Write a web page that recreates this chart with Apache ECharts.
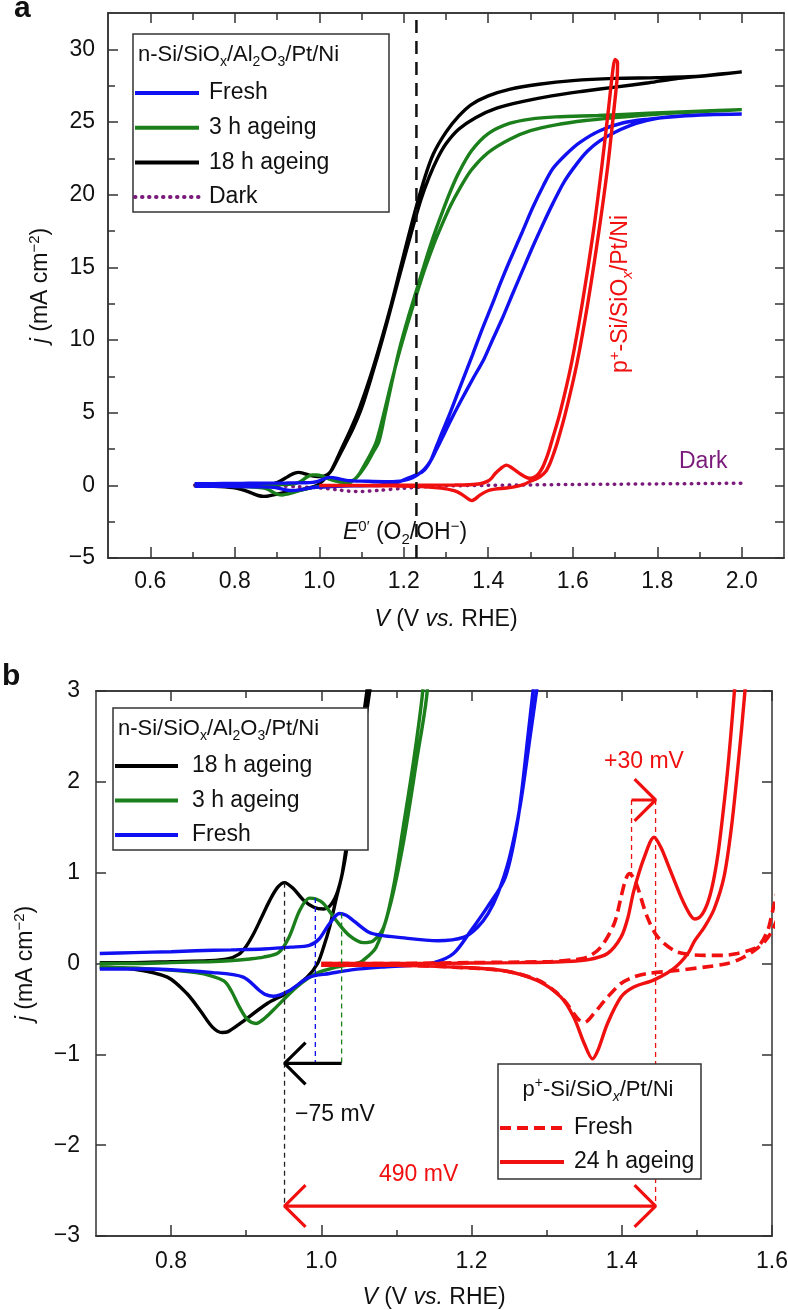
<!DOCTYPE html>
<html><head><meta charset="utf-8">
<script src="https://cdn.jsdelivr.net/npm/echarts@6.0.0/dist/echarts.min.js"></script>
<style>html,body{margin:0;padding:0;background:#fff}#c{width:788px;height:1310px}</style>
</head><body><div id="c"></div>
<script>
// ---------- tick values ----------
const xTicksA = [0.6, 0.8, 1.0, 1.2, 1.4, 1.6, 1.8, 2.0];
const xMinorA = [0.7, 0.9, 1.1, 1.3, 1.5, 1.7, 1.9];
const yTicksA = [-5, 0, 5, 10, 15, 20, 25, 30];
const yMinorA = [-2.5, 2.5, 7.5, 12.5, 17.5, 22.5, 27.5];
const xTicksB = [0.8, 1.0, 1.2, 1.4, 1.6];
const xMinorB = [0.9, 1.1, 1.3, 1.5];
const yTicksB = [-3, -2, -1, 0, 1, 2, 3];

// ---------- CV curves [V, mA cm^-2] (forward scan then reverse scan) ----------
const black18h = [
 [0.705,0.01],[0.75,0.01],[0.80,0.02],[0.85,0.03],[0.875,0.05],[0.89,0.10],[0.90,0.19],[0.91,0.33],[0.92,0.50],[0.931,0.69],[0.942,0.84],[0.951,0.89],[0.962,0.83],[0.976,0.70],[0.99,0.62],[1.003,0.60],[1.013,0.65],[1.022,0.80],[1.031,1.12],[1.045,1.9],[1.06,2.75],[1.08,3.9],[1.10,5.3],[1.125,7.6],[1.15,10.1],[1.175,12.8],[1.20,15.5],[1.22,17.6],[1.24,19.6],[1.26,21.2],[1.28,22.5],[1.30,23.5],[1.33,24.5],[1.37,25.3],[1.42,25.95],[1.48,26.4],[1.55,26.8],[1.62,27.1],[1.70,27.4],[1.78,27.7],[1.85,28.0],[1.92,28.2],[2.0,28.45],
 [1.95,28.3],[1.90,28.15],[1.80,28.05],[1.70,28.0],[1.60,27.85],[1.52,27.6],[1.45,27.25],[1.40,26.8],[1.36,26.2],[1.33,25.4],[1.30,24.3],[1.27,22.8],[1.25,21.2],[1.23,19.2],[1.21,17.0],[1.19,14.7],[1.17,12.4],[1.145,9.8],[1.12,7.4],[1.095,5.3],[1.075,3.9],[1.055,2.65],[1.04,1.7],[1.028,1.0],[1.02,0.72],[1.011,0.40],[1.003,0.18],[0.995,0.0],[0.981,-0.15],[0.955,-0.32],[0.928,-0.44],[0.892,-0.66],[0.876,-0.75],[0.868,-0.76],[0.855,-0.70],[0.839,-0.52],[0.821,-0.33],[0.795,-0.15],[0.749,-0.06],[0.705,-0.04]
];
const green3h = [
 [0.705,0.0],[0.75,0.0],[0.80,0.01],[0.85,0.02],[0.877,0.03],[0.905,0.05],[0.923,0.07],[0.943,0.12],[0.957,0.29],[0.971,0.58],[0.984,0.72],[0.993,0.71],[1.003,0.66],[1.02,0.47],[1.037,0.31],[1.056,0.23],[1.069,0.25],[1.083,0.40],[1.096,0.84],[1.109,1.5],[1.123,2.24],[1.135,3.0],[1.15,4.6],[1.17,7.0],[1.19,9.2],[1.21,11.2],[1.23,13.1],[1.25,14.9],[1.27,16.5],[1.29,17.9],[1.31,19.2],[1.33,20.3],[1.36,21.7],[1.40,22.9],[1.45,23.8],[1.50,24.4],[1.56,24.8],[1.63,25.1],[1.70,25.3],[1.78,25.5],[1.86,25.65],[1.93,25.75],[2.0,25.85],
 [1.90,25.75],[1.78,25.6],[1.66,25.45],[1.56,25.35],[1.50,25.2],[1.45,24.9],[1.40,24.2],[1.36,23.0],[1.33,21.5],[1.31,20.2],[1.29,18.7],[1.27,17.1],[1.25,15.3],[1.23,13.4],[1.21,11.5],[1.19,9.4],[1.172,7.1],[1.155,4.8],[1.141,3.0],[1.127,2.24],[1.109,1.32],[1.091,0.62],[1.073,0.18],[1.055,0.03],[1.047,0.0],[1.02,-0.04],[0.993,-0.11],[0.967,-0.26],[0.94,-0.48],[0.925,-0.60],[0.913,-0.66],[0.902,-0.62],[0.891,-0.48],[0.88,-0.30],[0.87,-0.19],[0.833,-0.10],[0.75,-0.05],[0.705,-0.04]
];
const blueFresh = [
 [0.705,0.11],[0.75,0.12],[0.80,0.13],[0.833,0.14],[0.88,0.15],[0.923,0.16],[0.96,0.18],[0.984,0.20],[0.997,0.27],[1.011,0.44],[1.024,0.55],[1.033,0.53],[1.043,0.47],[1.064,0.34],[1.08,0.31],[1.10,0.29],[1.155,0.25],[1.19,0.29],[1.208,0.40],[1.222,0.55],[1.235,0.77],[1.25,1.15],[1.265,1.75],[1.278,2.5],[1.29,3.2],[1.31,4.4],[1.335,5.8],[1.363,7.3],[1.39,8.7],[1.41,10.0],[1.435,11.6],[1.458,13.2],[1.48,14.7],[1.505,16.4],[1.53,18.0],[1.553,19.4],[1.58,20.9],[1.609,22.1],[1.635,23.0],[1.664,23.7],[1.70,24.3],[1.75,24.9],[1.80,25.25],[1.85,25.4],[1.92,25.5],[2.0,25.55],
 [1.92,25.5],[1.853,25.4],[1.78,25.2],[1.72,24.95],[1.664,24.4],[1.617,23.6],[1.585,22.8],[1.553,21.8],[1.53,20.6],[1.505,19.1],[1.48,17.4],[1.45,15.4],[1.43,14.0],[1.41,12.5],[1.385,10.7],[1.363,9.0],[1.335,6.9],[1.31,5.0],[1.29,3.6],[1.275,2.5],[1.262,1.6],[1.245,0.95],[1.221,0.62],[1.199,0.36],[1.176,0.11],[1.15,0.01],[1.12,-0.02],[1.08,-0.04],[1.04,-0.07],[1.011,-0.11],[0.984,-0.15],[0.957,-0.30],[0.936,-0.36],[0.925,-0.34],[0.918,-0.30],[0.896,-0.15],[0.856,-0.10],[0.767,-0.06],[0.705,-0.06]
];
const redAged24h = [
 [1.0,0.0],[1.05,0.0],[1.132,0.0],[1.2,0.005],[1.265,0.01],[1.32,0.02],[1.354,0.04],[1.381,0.11],[1.399,0.29],[1.408,0.50],[1.416,0.80],[1.430,1.17],[1.443,1.39],[1.452,1.28],[1.461,1.10],[1.479,0.73],[1.490,0.55],[1.497,0.49],[1.505,0.52],[1.514,0.66],[1.521,0.87],[1.528,1.2],[1.534,1.6],[1.540,2.05],[1.545,2.5],[1.550,3.0],[1.570,5.0],[1.597,8.4],[1.623,12.6],[1.649,17.5],[1.669,22.0],[1.685,26.0],[1.695,28.6],[1.70,29.3],
 [1.706,29.1],[1.705,28.0],[1.698,26.0],[1.683,22.0],[1.662,17.5],[1.636,12.6],[1.61,8.4],[1.583,5.0],[1.564,3.0],[1.555,2.2],[1.546,1.5],[1.536,0.95],[1.523,0.60],[1.51,0.40],[1.497,0.25],[1.488,0.11],[1.470,-0.05],[1.443,-0.18],[1.416,-0.26],[1.399,-0.37],[1.381,-0.66],[1.368,-0.96],[1.361,-1.05],[1.350,-0.88],[1.336,-0.59],[1.319,-0.37],[1.288,-0.19],[1.243,-0.08],[1.176,-0.04],[1.1,-0.02],[1.0,-0.02]
];
const redFresh = [
 [1.0,0.0],[1.1,0.0],[1.2,0.01],[1.3,0.02],[1.335,0.04],[1.354,0.07],[1.372,0.18],[1.39,0.44],[1.399,0.73],[1.405,0.92],[1.410,0.99],[1.415,0.95],[1.421,0.84],[1.434,0.51],[1.448,0.29],[1.470,0.14],[1.49,0.10],[1.510,0.09],[1.535,0.09],[1.554,0.11],[1.575,0.16],[1.585,0.22],[1.595,0.38],[1.6,0.55],[1.61,0.9],
 [1.61,0.6],[1.6,0.36],[1.59,0.24],[1.576,0.14],[1.56,0.06],[1.541,0.0],[1.510,-0.04],[1.470,-0.08],[1.434,-0.11],[1.415,-0.15],[1.399,-0.22],[1.381,-0.37],[1.372,-0.46],[1.363,-0.55],[1.350,-0.65],[1.343,-0.62],[1.336,-0.55],[1.325,-0.42],[1.31,-0.30],[1.288,-0.18],[1.243,-0.08],[1.176,-0.04],[1.1,-0.02],[1.0,-0.02]
];
const darkCurve = [
 [0.705,0.0],[0.80,-0.02],[0.90,-0.05],[0.95,-0.10],[1.0,-0.18],[1.04,-0.30],[1.07,-0.40],[1.10,-0.42],[1.14,-0.35],[1.2,-0.20],[1.25,-0.10],[1.3,-0.04],[1.4,0.0],[1.5,0.03],[1.6,0.06],[1.7,0.08],[1.8,0.10],[1.9,0.12],[2.0,0.15]
];

// ---------- annotation values ----------
const e0Potential = 1.23;            // E0'(O2/OH-)
const peaksN = [0.951, 0.992, 1.027]; // dashed markers (black, blue, green)
const peakTopsN = [0.89, 0.72, 0.55];
const peaksP = [1.413, 1.445];        // p+ fresh / 24 h oxidation peaks
const peakTopP = 0.97;
const shiftArrowY = -1.1;             // -75 mV arrow level
const gapArrowY = -2.67;              // 490 mV arrow level
const p30ArrowY = 1.8;                // +30 mV arrow level

const FONT = '"Liberation Sans", Arial, Helvetica, sans-serif';
const FS = 23;
const AX = '#333';
const C = {blue:'#1010f0', green:'#1b7f1b', black:'#000000', red:'#f01010', purple:'#7a1a7a'};

const fmtY = v => (v < 0 ? '\u2212' + Math.abs(v) : String(v));
const fmtX = v => Number(v).toFixed(1);

function axis(dim, grid, pos, min, max, ticks, len, withLabel, margin, extra) {
  const a = {
    type: 'value', gridIndex: grid, position: pos, min: min, max: max,
    axisLine: {show: true, onZero: false, lineStyle: {color: AX, width: 1.5}},
    axisTick: {show: true, inside: true, length: len, customValues: ticks, lineStyle: {color: AX, width: 1.5}},
    axisLabel: {show: withLabel, customValues: ticks, margin: margin, fontSize: FS, fontFamily: FONT, color: '#111',
      formatter: dim === 'x' ? fmtX : fmtY},
    splitLine: {show: false}, minorTick: {show: false}
  };
  return Object.assign(a, extra || {});
}
const nameRich = {
  i: {fontStyle: 'italic', fontSize: FS, fontFamily: FONT},
  sup: {fontSize: 15, fontFamily: FONT, verticalAlign: 'top', lineHeight: 15}
};
const nameStyle = {fontSize: FS, fontFamily: FONT, color: '#111', lineHeight: 27, rich: nameRich};

const xAxes = [
  axis('x', 0, 'bottom', 0.5, 2.1, xTicksA, 11, true, 12, {name: '{i|V} (V {i|vs.} RHE)', nameLocation: 'middle', nameGap: 48, nameTextStyle: nameStyle}),
  axis('x', 0, 'bottom', 0.5, 2.1, xMinorA, 6, false, 8),
  axis('x', 0, 'top', 0.5, 2.1, xTicksA, 10, false, 8),
  axis('x', 0, 'top', 0.5, 2.1, xMinorA, 7, false, 8),
  axis('x', 1, 'bottom', 0.7, 1.6, xTicksB, 11, true, 14, {name: '{i|V} (V {i|vs.} RHE)', nameLocation: 'middle', nameGap: 48, nameTextStyle: nameStyle}),
  axis('x', 1, 'bottom', 0.7, 1.6, xMinorB, 6, false, 8),
  axis('x', 1, 'top', 0.7, 1.6, xTicksB, 10, false, 8),
  axis('x', 1, 'top', 0.7, 1.6, xMinorB, 7, false, 8)
];
const yAxes = [
  axis('y', 0, 'left', -5, 32.5, yTicksA, 10, true, 13, {name: '{i|j} (mA cm{sup|\u22122})', nameLocation: 'middle', nameRotate: 90, nameGap: 54, nameTextStyle: nameStyle}),
  axis('y', 0, 'left', -5, 32.5, yMinorA, 7, false, 8),
  axis('y', 0, 'right', -5, 32.5, yTicksA.concat(yMinorA), 9, false, 8),
  axis('y', 1, 'left', -3, 3, yTicksB, 10, true, 16, {name: '{i|j} (mA cm{sup|\u22122})', nameLocation: 'middle', nameRotate: 90, nameGap: 57, nameTextStyle: nameStyle}),
  axis('y', 1, 'right', -3, 3, yTicksB, 10, false, 8)
];

function curve(name, data, xi, yi, color, width, type, z, extra) {
  return Object.assign({
    type: 'line', name: name, data: data, xAxisIndex: xi, yAxisIndex: yi,
    symbol: 'none', smooth: 0.3, clip: true, silent: true, z: z || 2,
    lineStyle: {color: color, width: width, type: type || 'solid'}, itemStyle: {color: color}
  }, extra || {});
}
function seg(points, xi, yi, color, width, type, z) {
  return curve('', points, xi, yi, color, width, type, z || 5, {smooth: false});
}
// arrow heads (open chevrons) in data units of panel b
const HEAD_DX = 0.028, HEAD_DY = 0.23;
function chevron(tipX, tipY, dir) {
  return [[tipX - dir * HEAD_DX, tipY + HEAD_DY], [tipX, tipY], [tipX - dir * HEAD_DX, tipY - HEAD_DY]];
}

const LBL = {aFresh: 'Fresh', a3h: '3 h ageing', a18h: '18 h ageing', aDark: 'Dark',
  b18h: '18 h ageing', b3h: '3 h ageing', bFresh: 'Fresh', pFresh: 'Fresh', p24h: '24 h ageing'};

const LW = 3.4;
const series = [
  // panel a
  curve('aDark', darkCurve, 0, 0, C.purple, 3.5, [0.5, 6.5], 2, {lineStyle: {color: C.purple, width: 3.5, type: [0.5, 6.5], cap: 'round'}}),
  curve('a18h', black18h, 0, 0, C.black, LW),
  curve('a3h', green3h, 0, 0, C.green, LW),
  curve('aFresh', blueFresh, 0, 0, C.blue, LW),
  curve('aRed', redAged24h, 0, 0, C.red, LW),
  seg([[e0Potential, -5], [e0Potential, 32.5]], 0, 0, '#111', 2.5, [13, 8], 6),
  // panel b
  curve('b18h', black18h, 4, 3, C.black, LW),
  curve('b3h', green3h, 4, 3, C.green, LW),
  curve('bFresh', blueFresh, 4, 3, C.blue, LW),
  curve('pFresh', redFresh, 4, 3, C.red, 3.6, [11, 6]),
  curve('p24h', redAged24h, 4, 3, C.red, LW),
  seg([[peaksN[0], peakTopsN[0]], [peaksN[0], gapArrowY]], 4, 3, '#222', 1.3, [5, 4]),
  seg([[peaksN[1], peakTopsN[1]], [peaksN[1], shiftArrowY]], 4, 3, C.blue, 1.3, [5, 4]),
  seg([[peaksN[2], peakTopsN[2]], [peaksN[2], shiftArrowY]], 4, 3, C.green, 1.3, [5, 4]),
  seg([[peaksP[0], p30ArrowY], [peaksP[0], peakTopP]], 4, 3, C.red, 1.3, [5, 4]),
  seg([[peaksP[1], p30ArrowY], [peaksP[1], gapArrowY]], 4, 3, C.red, 1.3, [5, 4]),
  seg([[peaksN[2], shiftArrowY], [peaksN[0], shiftArrowY]], 4, 3, C.black, 3.2),
  seg(chevron(peaksN[0], shiftArrowY, -1), 4, 3, C.black, 3.2),
  seg([[peaksN[0], gapArrowY], [peaksP[1], gapArrowY]], 4, 3, C.red, 3.2),
  seg(chevron(peaksN[0], gapArrowY, -1), 4, 3, C.red, 3.2),
  seg(chevron(peaksP[1], gapArrowY, 1), 4, 3, C.red, 3.2),
  seg([[peaksP[0], p30ArrowY], [peaksP[1], p30ArrowY]], 4, 3, C.red, 3.2),
  seg(chevron(peaksP[1], p30ArrowY, 1), 4, 3, C.red, 3.2)
];

function legend(names, left, top, gap, iw, textPad) {
  return {data: names, left: left, top: top, orient: 'vertical', itemWidth: iw, itemHeight: 14, itemGap: gap,
    padding: 0, selectedMode: false, z: 30, formatter: n => LBL[n],
    itemStyle: {opacity: 0, color: 'rgba(0,0,0,0)', borderWidth: 0},
    lineStyle: {width: 4},
    textStyle: {fontSize: FS, fontFamily: FONT, color: '#111', lineHeight: 24, padding: [0, 0, 0, textPad]}};
}

const subRich = {
  sub: {fontSize: 15, fontFamily: FONT, verticalAlign: 'bottom', lineHeight: 15},
  subi: {fontSize: 15, fontFamily: FONT, fontStyle: 'italic', verticalAlign: 'bottom', lineHeight: 15},
  sup: {fontSize: 15, fontFamily: FONT, verticalAlign: 'top', lineHeight: 15},
  i: {fontSize: FS, fontFamily: FONT, fontStyle: 'italic'}
};
const titleRich = {
  sub: {fontSize: 14, fontFamily: FONT, verticalAlign: 'bottom', lineHeight: 14},
  subi: {fontSize: 14, fontFamily: FONT, fontStyle: 'italic', verticalAlign: 'bottom', lineHeight: 14},
  sup: {fontSize: 14, fontFamily: FONT, verticalAlign: 'top', lineHeight: 14}
};
function gtext(x, y, text, color, align, extra, size, rich) {
  return Object.assign({type: 'text', x: x, y: y, z: 31,
    style: {text: text, fill: color, fontSize: size || FS, fontFamily: FONT, lineHeight: 28,
      align: align || 'left', verticalAlign: 'middle', rich: rich || subRich}}, extra || {});
}
function grect(x, y, w, h) {
  return {type: 'rect', z: 10, shape: {x: x, y: y, width: w, height: h}, style: {fill: '#fff', stroke: AX, lineWidth: 1.5}};
}

const option = {
  animation: false,
  grid: [
    {left: 108, top: 13, width: 676, height: 545, outerBoundsMode: 'none'},
    {left: 96, top: 691, width: 676, height: 545, outerBoundsMode: 'none'}
  ],
  xAxis: xAxes,
  yAxis: yAxes,
  legend: [
    legend(['aFresh', 'a3h', 'a18h', 'aDark'], 133, 81, 10.7, 64, 5),
    legend(['b18h', 'b3h', 'bFresh'], 113, 754, 10.5, 63, 9),
    legend(['pFresh', 'p24h'], 498, 1116, 10, 64, 5)
  ],
  graphic: [
    grect(133, 34, 256, 178),
    grect(113, 708, 255, 142),
    grect(498, 1064, 203, 115),
    gtext(138, 55, 'n-Si/SiO{sub|x}/Al{sub|2}O{sub|3}/Pt/Ni', '#111', 'left', null, 22, titleRich),
    gtext(118, 729, 'n-Si/SiO{sub|x}/Al{sub|2}O{sub|3}/Pt/Ni', '#111', 'left', null, 22, titleRich),
    gtext(598, 1090, 'p{sup|+}-Si/SiO{subi|x}/Pt/Ni', '#111', 'center', null, 22, titleRich),
    gtext(343, 533, '{i|E}{sup|0\u2032} (O{sub|2}/OH{sup|\u2212})', '#111'),
    gtext(679, 462, 'Dark', C.purple),
    gtext(621, 294, 'p{sup|+}-Si/SiO{subi|x}/Pt/Ni', C.red, 'center', {rotation: Math.PI / 2}),
    gtext(604, 762, '+30 mV', C.red),
    gtext(295, 1115, '\u221275 mV', '#111'),
    gtext(379, 1175, '490 mV', C.red),
    {type: 'text', x: 14, y: 24, z: 31, style: {text: 'a', fill: '#111', fontSize: 30, fontWeight: 'bold', fontFamily: FONT, verticalAlign: 'bottom'}},
    {type: 'text', x: 2, y: 692, z: 31, style: {text: 'b', fill: '#111', fontSize: 30, fontWeight: 'bold', fontFamily: FONT, verticalAlign: 'bottom'}}
  ],
  series: series
};
const chart = echarts.init(document.getElementById('c'), null, {renderer: 'canvas'});
chart.setOption(option);
</script></body></html>
